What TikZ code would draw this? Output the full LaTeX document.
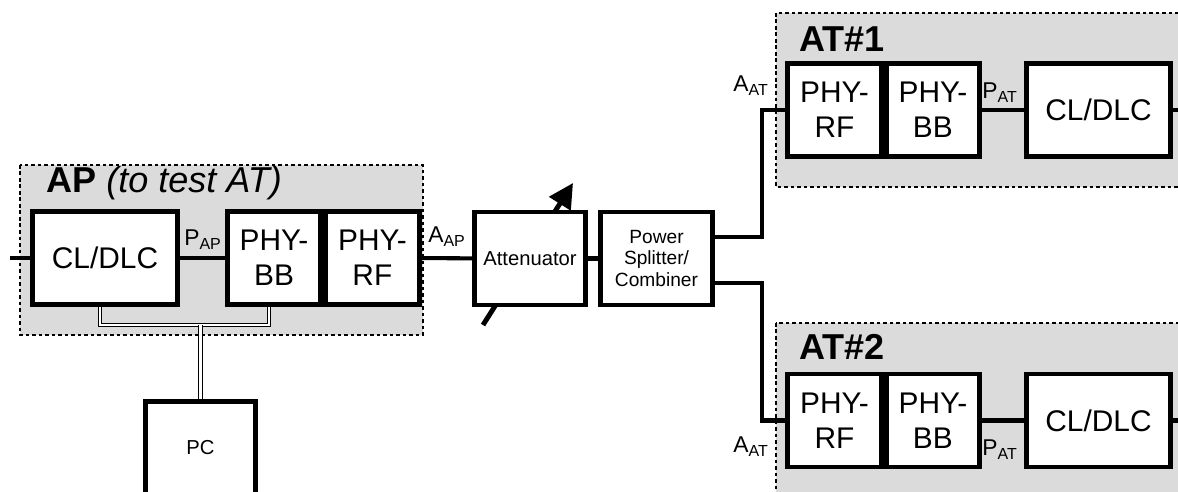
\documentclass[tikz,border=0pt]{standalone}
\usepackage{fontspec}
\setmainfont{Liberation Sans}
\usetikzlibrary{arrows.meta,positioning}

\tikzset{
  blk/.style={draw, line width=2.8pt, fill=white, inner sep=0pt, align=center,
              minimum width=1.87cm, minimum height=1.86cm,
              font=\fontsize{17}{20}\selectfont},
  region/.style={draw, fill=black!14, line width=0.6pt, dash pattern=on 2.2pt off 1.5pt},
  wire/.style={line width=2.3pt},
  bus/.style={line width=0.55pt, double, double distance=1.2pt},
  head/.style={anchor=west, inner sep=0pt, font=\fontsize{20.5}{22}\selectfont},
  port/.style={inner sep=0pt, font=\fontsize{13}{15}\selectfont}
}

\begin{document}
\begin{tikzpicture}[x=0.02cm, y=-0.02cm]
\useasboundingbox (0,0) rectangle (1178,492);

% shaded test set-ups
\draw[region] (20,165) rectangle (423,335);
\draw[region] (776,13) rectangle (1200,187);
\draw[region] (776,323) rectangle (1200,520);
\node[head] (aphead) at (46,183) {\textbf{AP} \textit{(to test AT)}};
\node[head] (at1head) at (799,39) {\textbf{AT\#1}};
\node[head] (at2head) at (799,347) {\textbf{AT\#2}};

% variable attenuator arrow (behind the box)
\draw[line width=2.8pt, -{Triangle[length=14pt, width=14pt]}] (483,325) -- (573,183);

% access point
\node[blk, minimum width=2.9cm] (apcl) at (105,258) {CL/DLC};
\node[blk] (apbb) at (274,258) {PHY-\\BB};
\node[blk, right=0pt of apbb] (aprf) {PHY-\\RF};

\node[blk, minimum width=2.22cm, font=\fontsize{11.5}{13}\selectfont] (att) at (530,258.5) {Attenuator};
\node[blk, minimum width=2.24cm, font=\fontsize{10.9}{12}\selectfont] (spl) at (656.5,258.5) {Power\\Splitter/\\Combiner};

% terminals
\node[blk] (at1rf) at (834.5,110) {PHY-\\RF};
\node[blk, right=0pt of at1rf] (at1bb) {PHY-\\BB};
\node[blk, minimum width=2.88cm] (at1cl) at (1098.5,110) {CL/DLC};

\node[blk] (at2rf) at (834.5,420.5) {PHY-\\RF};
\node[blk, right=0pt of at2rf] (at2bb) {PHY-\\BB};
\node[blk, minimum width=2.88cm] (at2cl) at (1098.5,420.5) {CL/DLC};

\node[blk, minimum width=2.2cm, font=\fontsize{11.5}{13}\selectfont] (pc) at (200.5,448) {PC};

% connections
\coordinate (apin) at (10,258);
\coordinate (at1out) at (1190,110);
\coordinate (at2out) at (1190,420.5);
\coordinate (busmid) at (200.5,325);

\draw[wire] (apin) -- (apcl);
\draw[wire] (apcl) -- (apbb);
\draw[wire] (aprf) -- (att);
\draw[wire] (att) -- (spl);
\draw[wire] ([yshift=12.2pt]spl.east) -- ++(47.5,0) |- (at1rf.west);
\draw[wire] ([yshift=-14pt]spl.east) -- ++(47.5,0) |- (at2rf.west);
\draw[wire] (at1bb) -- (at1cl);
\draw[wire] (at1cl) -- (at1out);
\draw[wire] (at2bb) -- (at2cl);
\draw[wire] (at2cl) -- (at2out);

\draw[bus] ([xshift=-3pt]apcl.south) |- (busmid) -| ([xshift=-3pt]apbb.south);
\draw[bus] (pc) -- (busmid);

% port labels
\node[port] (pap) at (203,240) {P\textsubscript{AP}};
\node[port] (aap) at (447,237) {A\textsubscript{AP}};
\node[port] (aat1) at (751,86) {A\textsubscript{AT}};
\node[port] (pat1) at (1000,93) {P\textsubscript{AT}};
\node[port] (aat2) at (751,447) {A\textsubscript{AT}};
\node[port] (pat2) at (1000,450) {P\textsubscript{AT}};
\end{tikzpicture}
\end{document}
